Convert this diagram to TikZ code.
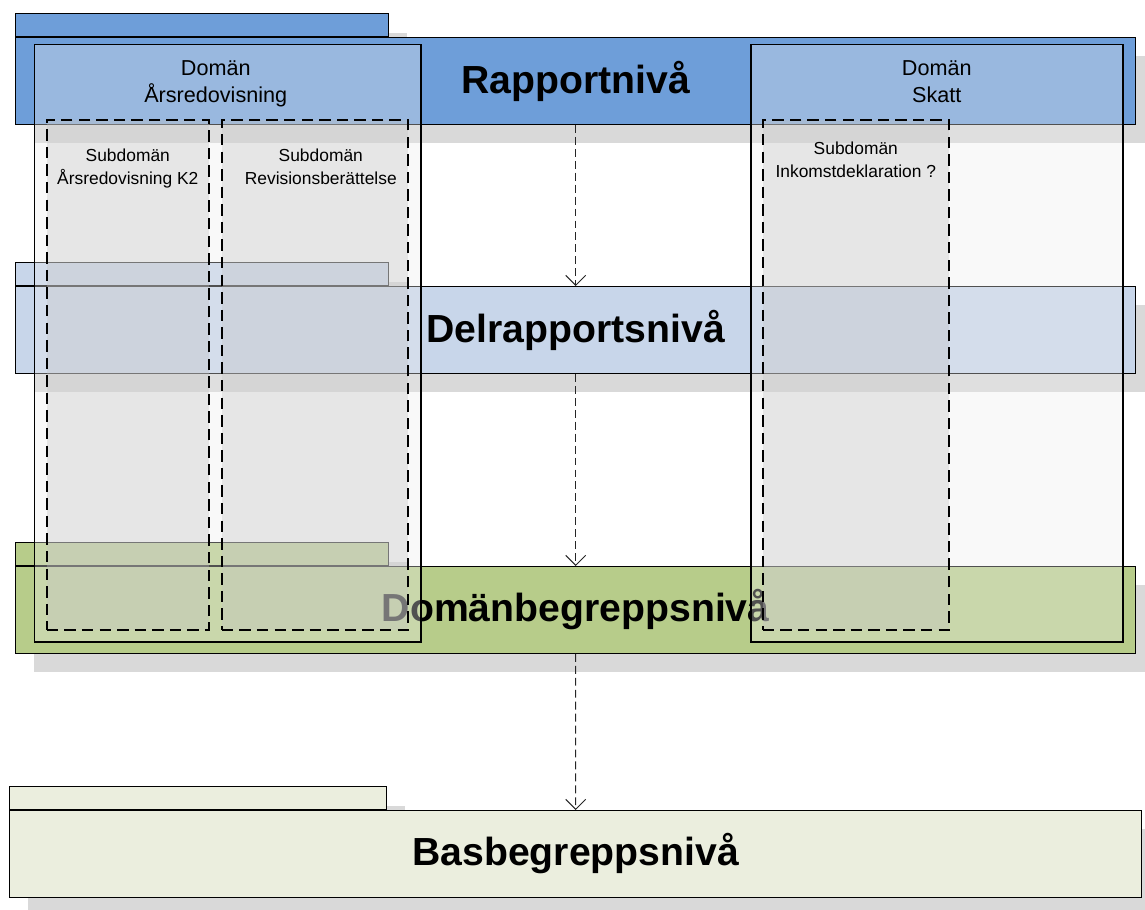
\documentclass[tikz,border=0pt]{standalone}
\usepackage{fontspec}
\setmainfont{Liberation Sans}
\usetikzlibrary{calc, positioning}
\usetikzlibrary{arrows.meta}
\definecolor{rapportblue}{RGB}{110,158,217}
\definecolor{delblue}{RGB}{200,214,234}
\definecolor{domgreen}{RGB}{183,204,138}
\definecolor{basgreen}{RGB}{235,238,222}
\definecolor{shadowgray}{RGB}{217,217,217}
\def\lh{1.73cm}
\def\th{0.46cm}
\def\so{0.38cm}
\tikzset{
    levelborder/.style = {
        draw, rectangle, minimum height=\lh, anchor=north west, inner sep=0pt, line width=0.8pt,
        font=\fontsize{22.3}{26}\selectfont\bfseries
    },
    tabborder/.style = {
        draw, rectangle, minimum height=\th, anchor=south west, inner sep=0pt, line width=0.8pt
    },
    pics/Level/.style n args = {4}{
        code = {
            \fill[shadowgray] (\so,-\so) rectangle ++(#3,-\lh);
            \fill[shadowgray] (\so,\th-\so) rectangle ++(#4,-\th);
            \node [tabborder, fill=#2, minimum width=#4] (-tab) at (0,0) {};
            \node [levelborder, fill=#2, minimum width=#3] (-edge) at (0,0) {#1};
    }}
    }
\tikzset{
    domainborder/.style = {
        draw, rectangle, anchor=north west, line width=0.85pt,
        fill=black!7, fill opacity=0.34, draw opacity=1
    },
    subborder/.style = {
        draw, rectangle, anchor=north west, line width=0.9pt, dash pattern=on 6.5pt off 3.5pt,
        fill=black!24, fill opacity=0.34, draw opacity=1
    },
    domaintext/.style = {inner sep=0pt, align=center, font=\fontsize{12.3}{15.3}\selectfont},
    subtext/.style = {inner sep=0pt, align=center, font=\fontsize{9.9}{13}\selectfont}
    }

\begin{document}
\begin{tikzpicture}
        \useasboundingbox (0,0) rectangle (22.9,-18.18);
        % Place the levels
        \pic (rap) at (0.30,-0.74) {Level={Rapportnivå}{rapportblue}{22.4cm}{7.46cm}};
        \pic (del) at (0.30,-5.72) {Level={Delrapportsnivå}{delblue}{22.4cm}{7.46cm}};
        \pic (dom) at (0.30,-11.32) {Level={Domänbegreppsnivå}{domgreen}{22.4cm}{7.46cm}};
        \pic (bas) at (0.18,-16.20) {Level={Basbegreppsnivå}{basgreen}{22.64cm}{7.54cm}};
        \begin{scope}[line width=0.55pt, black!85, dash pattern=on 4.5pt off 2.3pt, -{Straight Barb[length=2mm,width=4mm]}]
            \draw (rap-edge.south) -- (del-edge.north);
            \draw (del-edge.south) -- (dom-edge.north);
            \draw (dom-edge.south) -- (bas-edge.north);
        \end{scope}
        % Domains and subdomains on top
        \node [domainborder, minimum width=7.72cm, minimum height=11.94cm] (ars) at (0.68,-0.88) {};
        \node [domainborder, minimum width=7.44cm, minimum height=11.94cm] (skatt) at (15.00,-0.88) {};
        \node [subborder, minimum width=3.24cm, minimum height=10.2cm] (k2) at (0.92,-2.38) {};
        \node [subborder, minimum width=3.72cm, minimum height=10.2cm] (rev) at (4.42,-2.38) {};
        \node [subborder, minimum width=3.72cm, minimum height=10.2cm] (ink) at (15.24,-2.38) {};
        \node [domaintext, below=0.32cm of ars.north, xshift=-0.24cm] (ars-label) {Domän\\Årsredovisning};
        \node [domaintext, below=0.32cm of skatt.north] (skatt-label) {Domän\\Skatt};
        \node [subtext, below=0.59cm of k2.north] (k2-label) {Subdomän\\Årsredovisning K2};
        \node [subtext, below=0.59cm of rev.north, xshift=0.12cm] (rev-label) {Subdomän\\Revisionsberättelse};
        \node [subtext, below=0.45cm of ink.north] (ink-label) {Subdomän\\Inkomstdeklaration ?};
    \end{tikzpicture}
\end{document}
